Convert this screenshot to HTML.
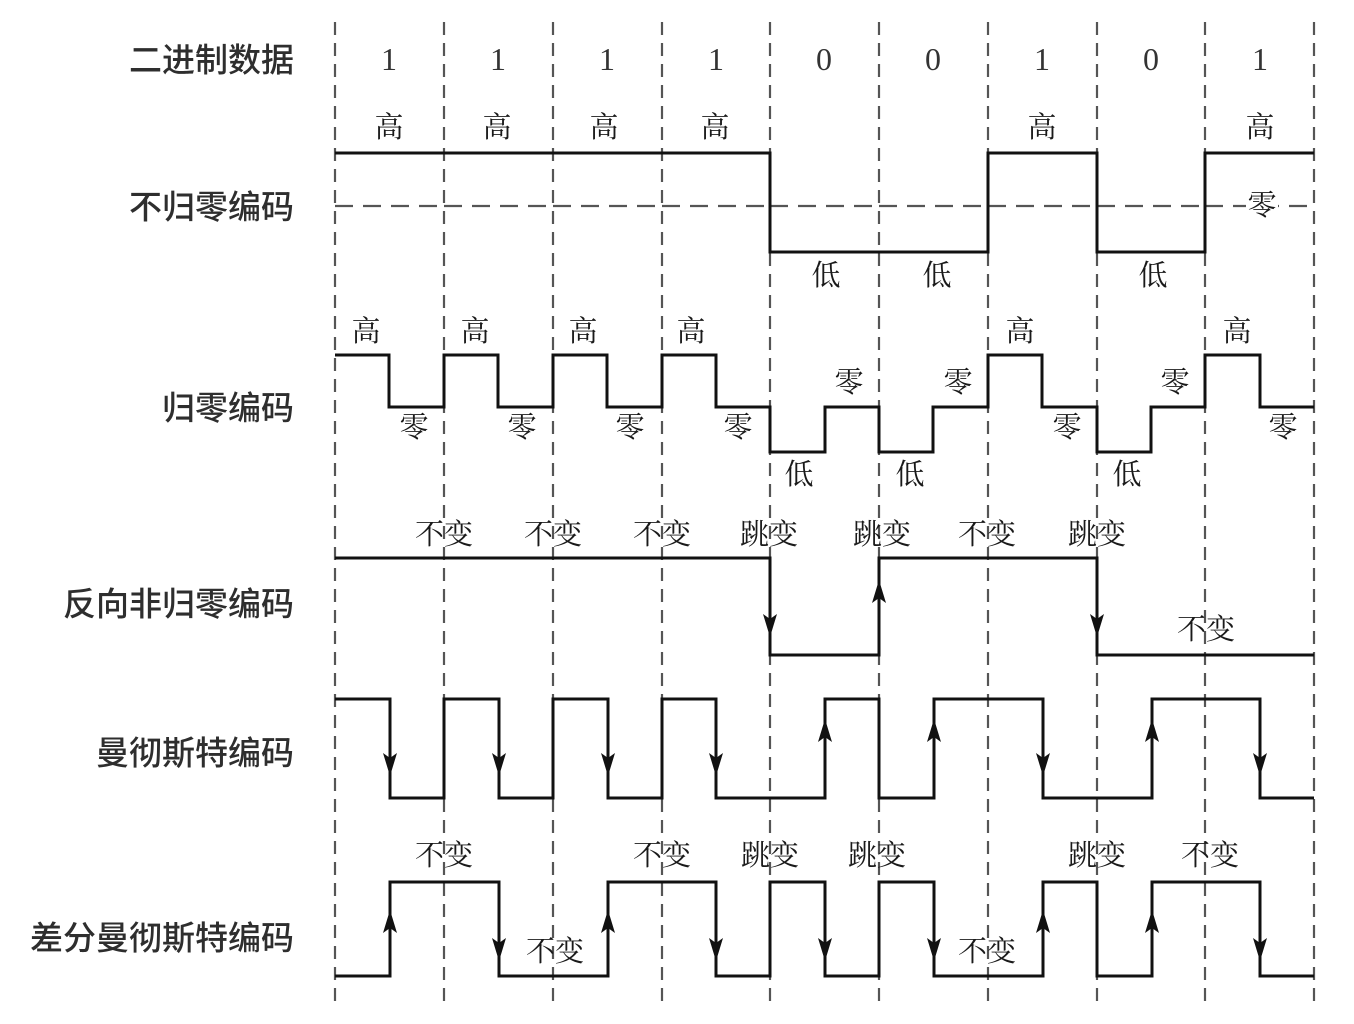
<!DOCTYPE html>
<html><head><meta charset="utf-8"><style>
html,body{margin:0;padding:0;background:#fff;}
svg{display:block;}
.lab{font-family:"Liberation Sans","Noto Sans CJK SC",sans-serif;font-size:33px;fill:#2e2e2e;font-weight:500;}
.t{font-family:"Liberation Serif","Noto Serif CJK SC",serif;font-size:29px;fill:#1a1a1a;}
.d{font-family:"Liberation Serif","Noto Serif CJK SC",serif;font-size:32px;fill:#333;}
</style></head><body>
<svg width="1354" height="1024" viewBox="0 0 1354 1024" xmlns="http://www.w3.org/2000/svg">
<rect width="1354" height="1024" fill="#fff"/>
<!-- vertical dashed lines -->
<g stroke="#555" stroke-width="2.2" stroke-dasharray="13 8" fill="none">
<line x1="335" y1="22" x2="335" y2="1006"/>
<line x1="444" y1="22" x2="444" y2="1006"/>
<line x1="553" y1="22" x2="553" y2="1006"/>
<line x1="662" y1="22" x2="662" y2="1006"/>
<line x1="770" y1="22" x2="770" y2="1006"/>
<line x1="879" y1="22" x2="879" y2="1006"/>
<line x1="988" y1="22" x2="988" y2="1006"/>
<line x1="1097" y1="22" x2="1097" y2="1006"/>
<line x1="1205" y1="22" x2="1205" y2="1006"/>
<line x1="1314" y1="22" x2="1314" y2="1006"/>
</g>
<!-- NRZ zero dashed -->
<g stroke="#555" stroke-width="2.2" stroke-dasharray="18 10" fill="none">
<line x1="335" y1="206" x2="444" y2="206"/>
<line x1="444" y1="206" x2="553" y2="206"/>
<line x1="553" y1="206" x2="662" y2="206"/>
<line x1="662" y1="206" x2="770" y2="206"/>
<line x1="770" y1="206" x2="879" y2="206"/>
<line x1="879" y1="206" x2="988" y2="206"/>
<line x1="988" y1="206" x2="1097" y2="206"/>
<line x1="1097" y1="206" x2="1205" y2="206"/>
<line x1="1205" y1="206" x2="1314" y2="206"/>
</g>
<!-- waveforms -->
<g stroke="#111" stroke-width="3" fill="none" stroke-linejoin="miter">
<path d="M335,153 H770 V252 H988 V153 H1097 V252 H1205 V153 H1314"/>
<path d="M335,355 H389 V407 H444 V355 H498 V407 H553 V355 H607 V407 H662 V355 H716 V407 H770 V452 H825 V407 H879 V452 H933 V407 H988 V355 H1042 V407 H1097 V452 H1151 V407 H1205 V355 H1260 V407 H1314"/>
<path d="M335,558 H770 V655 H879 V558 H1097 V655 H1314"/>
<path d="M335,699 H390 V798 H444 V699 H499 V798 H553 V699 H608 V798 H662 V699 H716 V798 H825 V699 H879 V798 H934 V699 H1043 V798 H1152 V699 H1260 V798 H1314"/>
<path d="M335,976 H390 V882 H499 V976 H608 V882 H716 V976 H770 V882 H825 V976 H879 V882 H934 V976 H1043 V882 H1097 V976 H1152 V882 H1260 V976 H1314"/>
</g>
<!-- arrowheads -->
<g fill="#111">
<polygon points="770,637 763,614 770,619 777,614"/>
<polygon points="1097,637 1090,614 1097,619 1104,614"/>
<polygon points="879,580 872,603 879,598 886,603"/>
<polygon points="390,776 383,753 390,758 397,753"/>
<polygon points="499,776 492,753 499,758 506,753"/>
<polygon points="608,776 601,753 608,758 615,753"/>
<polygon points="716,776 709,753 716,758 723,753"/>
<polygon points="1043,776 1036,753 1043,758 1050,753"/>
<polygon points="1260,776 1253,753 1260,758 1267,753"/>
<polygon points="825,719 818,742 825,737 832,742"/>
<polygon points="934,719 927,742 934,737 941,742"/>
<polygon points="1152,719 1145,742 1152,737 1159,742"/>
<polygon points="390,910 383,933 390,928 397,933"/>
<polygon points="608,910 601,933 608,928 615,933"/>
<polygon points="1043,910 1036,933 1043,928 1050,933"/>
<polygon points="1152,910 1145,933 1152,928 1159,933"/>
<polygon points="499,961 492,938 499,943 506,938"/>
<polygon points="716,961 709,938 716,943 723,938"/>
<polygon points="825,961 818,938 825,943 832,938"/>
<polygon points="934,961 927,938 934,943 941,938"/>
<polygon points="1260,961 1253,938 1260,943 1267,938"/>
</g>
<!-- row labels -->
<g class="lab" text-anchor="end" dominant-baseline="central">
<text x="294" y="60">二进制数据</text>
<text x="294" y="207">不归零编码</text>
<text x="294" y="408">归零编码</text>
<text x="294" y="604">反向非归零编码</text>
<text x="294" y="753">曼彻斯特编码</text>
<text x="294" y="938">差分曼彻斯特编码</text>
</g>
<!-- digits -->
<g class="d" text-anchor="middle" dominant-baseline="central">
<text x="389" y="59">1</text>
<text x="498" y="59">1</text>
<text x="607" y="59">1</text>
<text x="716" y="59">1</text>
<text x="824" y="59">0</text>
<text x="933" y="59">0</text>
<text x="1042" y="59">1</text>
<text x="1151" y="59">0</text>
<text x="1260" y="59">1</text>
</g>
<g class="t" text-anchor="middle" dominant-baseline="central">
<!-- NRZ -->
<text x="389" y="128">高</text>
<text x="497" y="128">高</text>
<text x="604" y="128">高</text>
<text x="715" y="128">高</text>
<text x="1042" y="128">高</text>
<text x="1260" y="128">高</text>
<text x="826" y="276">低</text>
<text x="937" y="276">低</text>
<text x="1153" y="276">低</text>
<rect x="1246" y="190" width="32" height="32" fill="#fff"/>
<text x="1262" y="206">零</text>
<!-- RZ -->
<text x="366" y="332">高</text>
<text x="475" y="332">高</text>
<text x="583" y="332">高</text>
<text x="691" y="332">高</text>
<text x="1020" y="332">高</text>
<text x="1237" y="332">高</text>
<text x="414" y="428">零</text>
<text x="522" y="428">零</text>
<text x="630" y="428">零</text>
<text x="738" y="428">零</text>
<text x="1067" y="428">零</text>
<text x="1283" y="428">零</text>
<text x="849" y="383">零</text>
<text x="958" y="383">零</text>
<text x="1175" y="383">零</text>
<text x="799" y="475">低</text>
<text x="910" y="475">低</text>
<text x="1127" y="475">低</text>
<!-- NRZI -->
<text x="444" y="535">不变</text>
<text x="553" y="535">不变</text>
<text x="662" y="535">不变</text>
<text x="769" y="535">跳变</text>
<text x="882" y="535">跳变</text>
<text x="987" y="535">不变</text>
<text x="1097" y="535">跳变</text>
<text x="1206" y="630">不变</text>
<!-- Diff Manchester -->
<text x="444" y="856">不变</text>
<text x="662" y="856">不变</text>
<text x="770" y="856">跳变</text>
<text x="877" y="856">跳变</text>
<text x="1097" y="856">跳变</text>
<text x="1210" y="856">不变</text>
<text x="555" y="952">不变</text>
<text x="987" y="952">不变</text>
</g>
</svg>
</body></html>
